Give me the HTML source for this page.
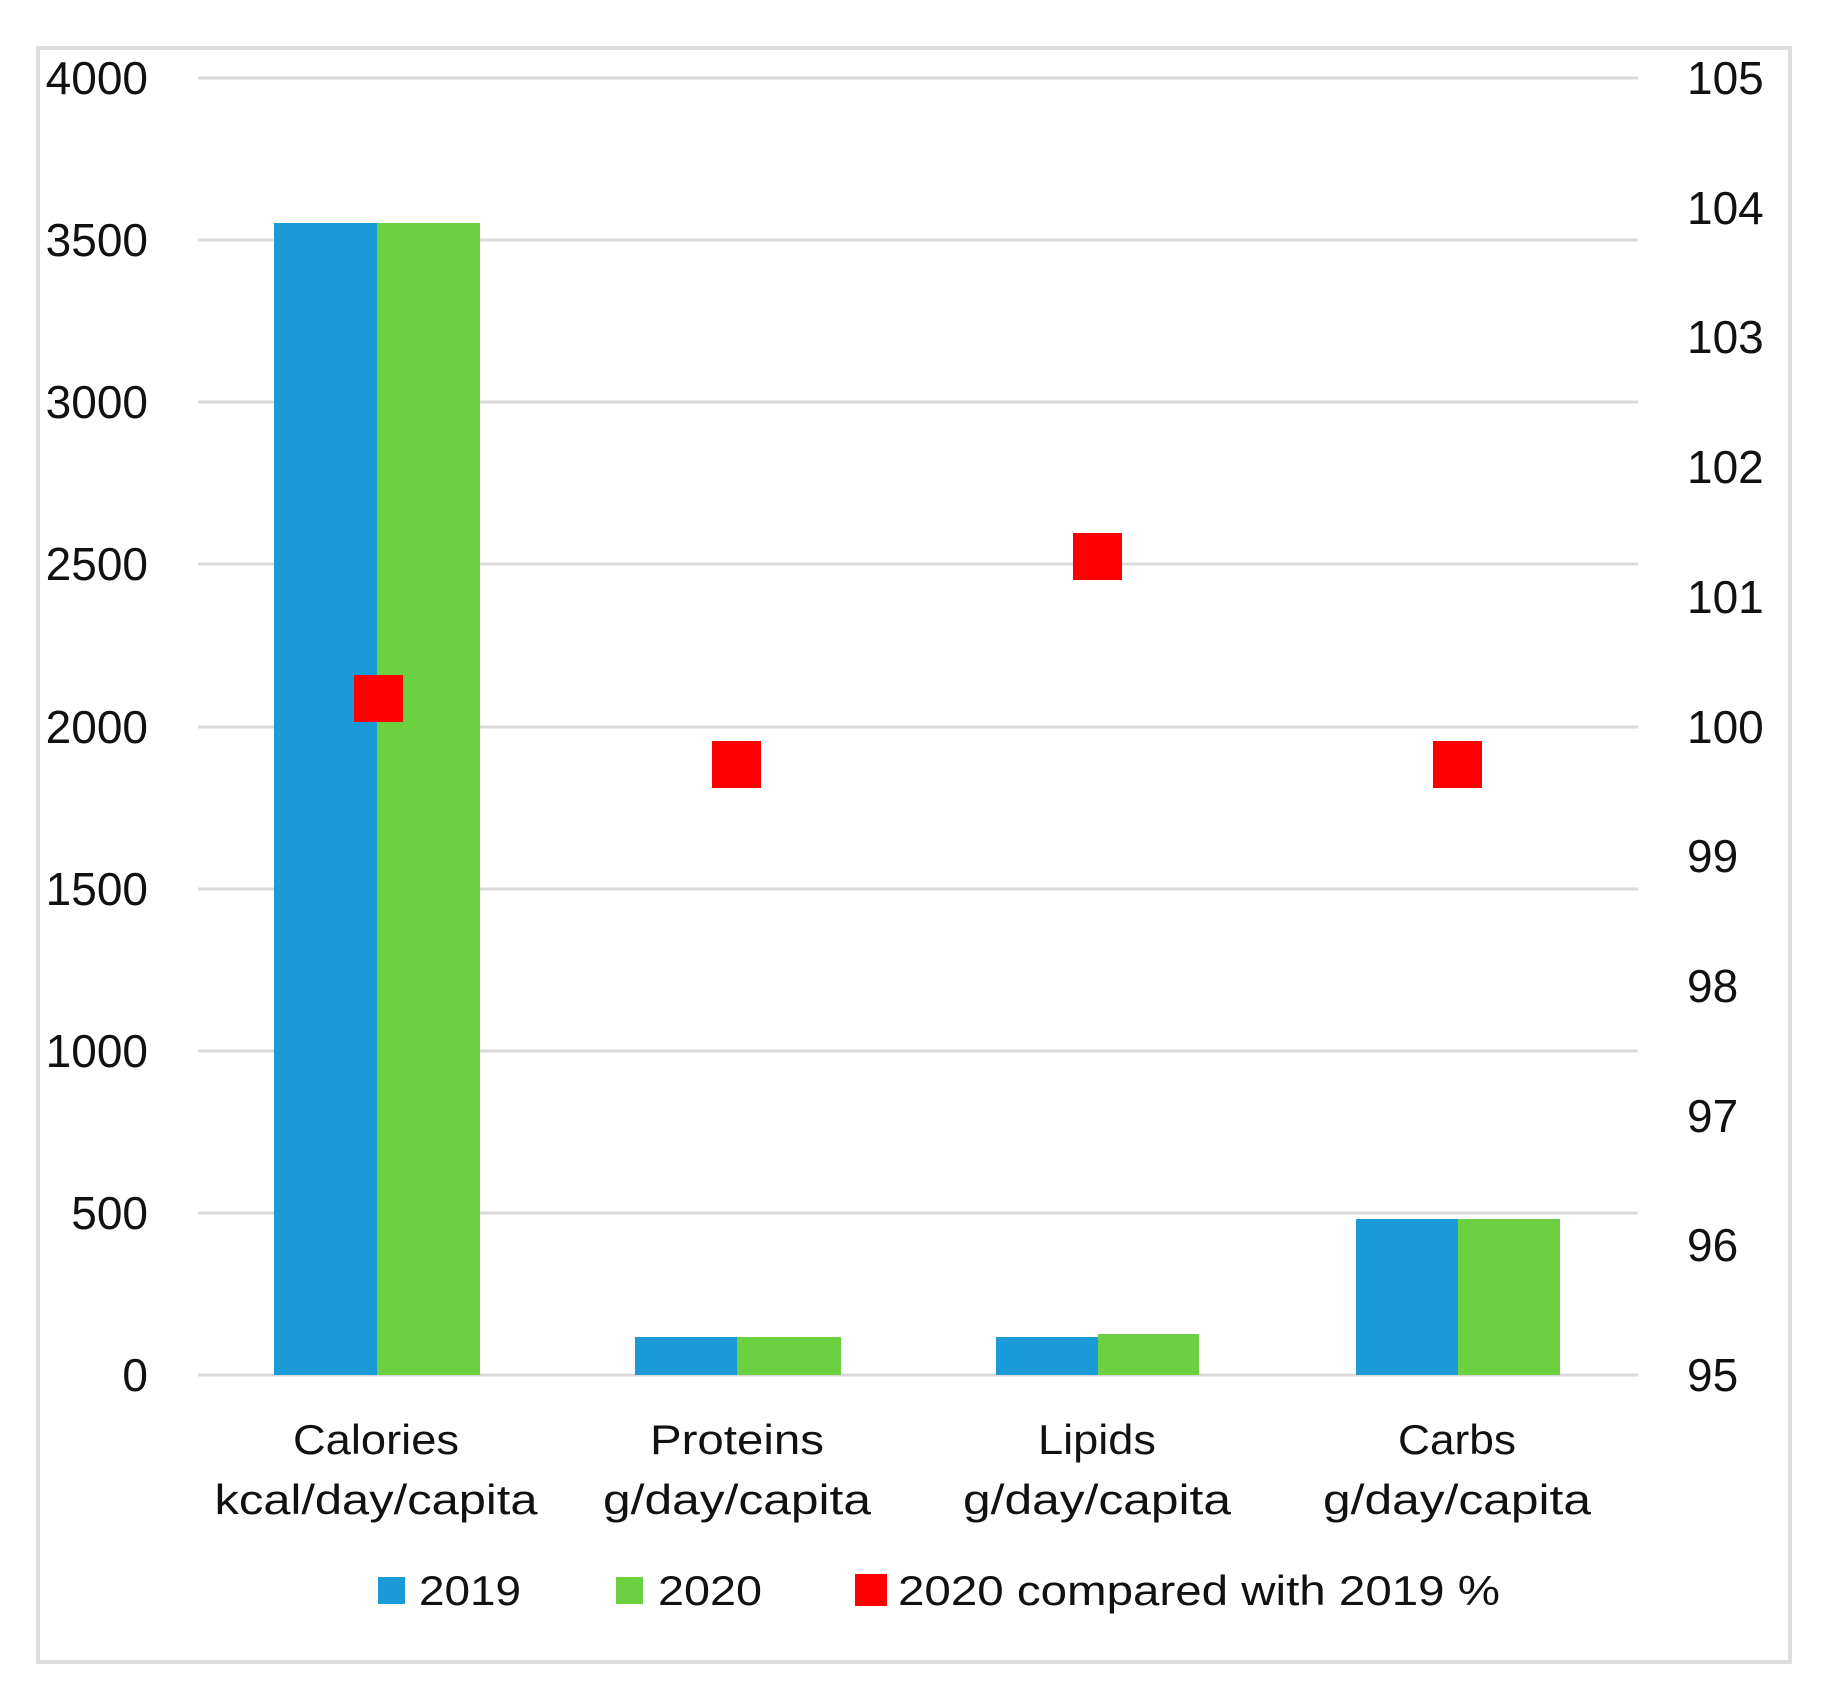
<!DOCTYPE html>
<html><head><meta charset="utf-8"><style>
html,body{margin:0;padding:0;background:#fff;}
svg{display:block;}
text{font-family:"Liberation Sans",sans-serif;font-size:42px;fill:#111;}
.t{font-size:46px;}
</style></head><body>
<svg width="1824" height="1702" viewBox="0 0 1824 1702" xmlns="http://www.w3.org/2000/svg">
<rect x="38" y="48" width="1752" height="1614" fill="#fff" stroke="#ddd" stroke-width="4"/>
<g stroke="#d9d9d9" stroke-width="3">
<line x1="198" x2="1638" y1="78" y2="78"/>
<line x1="198" x2="1638" y1="240" y2="240"/>
<line x1="198" x2="1638" y1="402" y2="402"/>
<line x1="198" x2="1638" y1="564" y2="564"/>
<line x1="198" x2="1638" y1="727" y2="727"/>
<line x1="198" x2="1638" y1="889" y2="889"/>
<line x1="198" x2="1638" y1="1051" y2="1051"/>
<line x1="198" x2="1638" y1="1213" y2="1213"/>
<line x1="198" x2="1638" y1="1375" y2="1375"/>
</g>
<g text-anchor="end" class="t">
<text class="t" x="148" y="94">4000</text>
<text class="t" x="148" y="256">3500</text>
<text class="t" x="148" y="418">3000</text>
<text class="t" x="148" y="580">2500</text>
<text class="t" x="148" y="743">2000</text>
<text class="t" x="148" y="905">1500</text>
<text class="t" x="148" y="1067">1000</text>
<text class="t" x="148" y="1229">500</text>
<text class="t" x="148" y="1391">0</text>
</g>
<g>
<text class="t" x="1687" y="94">105</text>
<text class="t" x="1687" y="224">104</text>
<text class="t" x="1687" y="353">103</text>
<text class="t" x="1687" y="483">102</text>
<text class="t" x="1687" y="613">101</text>
<text class="t" x="1687" y="743">100</text>
<text class="t" x="1687" y="872">99</text>
<text class="t" x="1687" y="1002">98</text>
<text class="t" x="1687" y="1132">97</text>
<text class="t" x="1687" y="1261">96</text>
<text class="t" x="1687" y="1391">95</text>
</g>
<g fill="#1a9bd7">
<rect x="274" y="223" width="103" height="1152"/>
<rect x="635" y="1337" width="102" height="38"/>
<rect x="996" y="1337" width="102" height="38"/>
<rect x="1356" y="1219" width="102" height="156"/>
</g>
<g fill="#6bd140">
<rect x="377" y="223" width="103" height="1152"/>
<rect x="737" y="1337" width="104" height="38"/>
<rect x="1098" y="1334" width="101" height="41"/>
<rect x="1458" y="1219" width="102" height="156"/>
</g>
<g fill="#ff0000">
<rect x="354" y="675" width="49" height="47"/>
<rect x="712" y="741" width="49" height="47"/>
<rect x="1073" y="533" width="49" height="47"/>
<rect x="1433" y="741" width="49" height="47"/>
</g>
<g text-anchor="middle">
<text x="376" y="1454" textLength="166" lengthAdjust="spacingAndGlyphs">Calories</text>
<text x="376" y="1514" textLength="323" lengthAdjust="spacingAndGlyphs">kcal/day/capita</text>
<text x="737" y="1454" textLength="174" lengthAdjust="spacingAndGlyphs">Proteins</text>
<text x="737" y="1514" textLength="268" lengthAdjust="spacingAndGlyphs">g/day/capita</text>
<text x="1097" y="1454" textLength="118" lengthAdjust="spacingAndGlyphs">Lipids</text>
<text x="1097" y="1514" textLength="268" lengthAdjust="spacingAndGlyphs">g/day/capita</text>
<text x="1457" y="1454" textLength="118" lengthAdjust="spacingAndGlyphs">Carbs</text>
<text x="1457" y="1514" textLength="268" lengthAdjust="spacingAndGlyphs">g/day/capita</text>
</g>
<rect x="378" y="1577" width="27" height="27" fill="#1a9bd7"/>
<text x="419" y="1605" textLength="102" lengthAdjust="spacingAndGlyphs">2019</text>
<rect x="616" y="1577" width="27" height="27" fill="#6bd140"/>
<text x="658" y="1605" textLength="104" lengthAdjust="spacingAndGlyphs">2020</text>
<rect x="855" y="1574" width="32" height="32" fill="#ff0000"/>
<text x="898" y="1605" textLength="602" lengthAdjust="spacingAndGlyphs">2020 compared with 2019 %</text>
</svg>
</body></html>
